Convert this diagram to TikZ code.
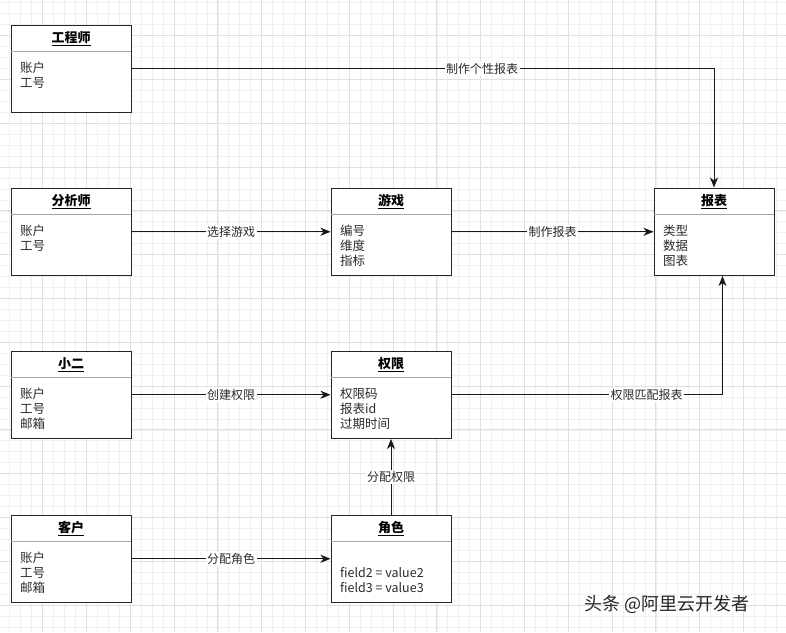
\documentclass[tikz,border=0pt]{standalone}
\usepackage{fontspec}
\setmainfont{Noto Sans CJK SC}
\usetikzlibrary{arrows.meta}
\definecolor{gridminor}{HTML}{F0F0F0}
\definecolor{gridmajor}{HTML}{E0E0E0}
\definecolor{inktext}{HTML}{2A2A2A}
\tikzset{
  umlbox/.style={draw=black!85, line width=1pt, fill=white, minimum width=120pt, minimum height=87.5pt, inner sep=0pt},
  sepline/.style={draw=black!35, line width=1pt},
  titletext/.style={font=\fontsize{13}{13}\selectfont\bfseries, text=black, inner sep=0pt},
  bodytext/.style={font=\fontsize{12.5}{12.5}\selectfont, text=inktext, inner sep=0pt, anchor=base west},
  conn/.style={draw=black!90, line width=0.9pt, -{Stealth[length=10pt,width=8pt,inset=3pt]}},
  lbl/.style={fill=white, font=\fontsize{12}{12}\selectfont, text=inktext, inner sep=1.5pt},
  minorline/.style={draw=gridminor, line width=0.6pt},
  majorline/.style={draw=gridmajor, line width=0.8pt}
}
% name, center x, top y, title, first-line offset, lines
\newcommand\myumlbox[6]{%
  \node[umlbox] (#1) at (#2,#3+43.75) {};
  \draw[sepline] ([yshift=-27pt,xshift=0.5pt]#1.north west) -- ([yshift=-27pt,xshift=-0.5pt]#1.north east);
  \node[titletext] (#1-t) at (#2,#3+13.5) {\underline{#4}};
  \foreach \ln [count=\i] in {#6} {
    \pgfmathsetmacro\yy{#3+#5+15*(\i-1)}
    \node[bodytext] (#1-l\i) at (#2-51,\yy) {\ln};
  }
}
\begin{document}
\begin{tikzpicture}[x=1pt,y=-1pt]
\useasboundingbox (0,0) rectangle (786,632);
\fill[white] (0,0) rectangle (786,632);
% grid
\foreach \i in {0,...,72} \draw[minorline] ({-1.2+10.95*\i},0) -- ({-1.2+10.95*\i},632);
\foreach \j in {0,...,58} \draw[minorline] (0,{-8.2+10.95*\j}) -- (786,{-8.2+10.95*\j});
\foreach \i in {0,...,18} \draw[majorline] ({-1.2+43.8*\i},0) -- ({-1.2+43.8*\i},632);
\foreach \j in {0,...,14} \draw[majorline] (0,{-8.2+43.8*\j}) -- (786,{-8.2+43.8*\j});

% boxes
\myumlbox{eng}{71}{25}{工程师}{47.5}{账户,工号}
\myumlbox{ana}{71}{188}{分析师}{47.5}{账户,工号}
\myumlbox{xiao}{71}{351}{小二}{47.5}{账户,工号,邮箱}
\myumlbox{cust}{71}{515}{客户}{47.5}{账户,工号,邮箱}
\myumlbox{game}{391}{188}{游戏}{47.5}{编号,维度,指标}
\myumlbox{perm}{391}{351}{权限}{47.5}{权限码,报表id,过期时间}
\myumlbox{role}{391}{515}{角色}{62}{field2 = value2,field3 = value3}
\myumlbox{report}{714}{188}{报表}{47.5}{类型,数据,图表}

% connectors
\draw[conn] (eng.east) -| node[lbl,pos=0.301] (e1) {制作个性报表} (report.north);
\draw[conn] (ana.east) -- node[lbl] (e2) {选择游戏} (game.west);
\draw[conn] (game.east) -- node[lbl] (e3) {制作报表} (report.west);
\draw[conn] (xiao.east) -- node[lbl] (e4) {创建权限} (perm.west);
\draw[conn] (perm.east) -| node[lbl,pos=0.36] (e5) {权限匹配报表} ([xshift=8.5pt]report.south);
\draw[conn] (cust.east) -- node[lbl] (e6) {分配角色} (role.west);
\draw[conn] (role.north) -- node[lbl] (e7) {分配权限} (perm.south);

% watermark
\node[anchor=west, font=\fontsize{18}{18}\selectfont, text=black!85, inner sep=0pt] (wm) at (584,604) {头条 @阿里云开发者};
\end{tikzpicture}
\end{document}
